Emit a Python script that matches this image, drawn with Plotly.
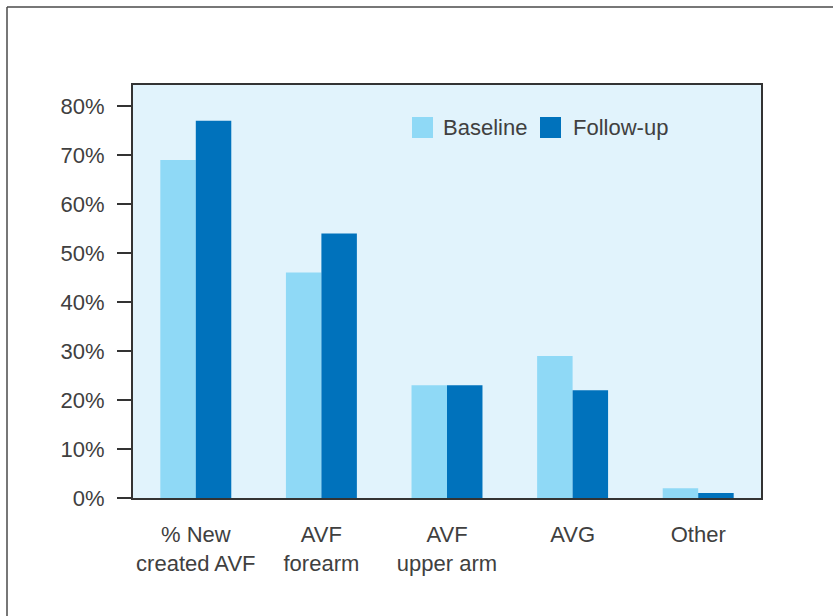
import plotly.graph_objects as go

categories = ["% New<br>created AVF", "AVF<br>forearm", "AVF<br>upper arm", "AVG", "Other"]
baseline = [69, 46, 23, 29, 2]
follow_up = [77, 54, 23, 22, 1]
series_names = ["Baseline", "Follow-up"]
y_ticks = [0, 10, 20, 30, 40, 50, 60, 70, 80]
y_tick_labels = [f"{v}%" for v in y_ticks]

c_base = "#8fd9f6"
c_follow = "#0072bc"
font_family = "Liberation Sans, Arial, sans-serif"
txt_color = "#404040"
fs = 22

fig = go.Figure()
fig.add_trace(go.Bar(x=categories, y=baseline, name=series_names[0], marker=dict(color=c_base, line=dict(width=0))))
fig.add_trace(go.Bar(x=categories, y=follow_up, name=series_names[1], marker=dict(color=c_follow, line=dict(width=0))))

L, R, T, B = 133, 72, 85, 118
W, H = 833, 616
pw, ph = W - L - R, H - T - B

def px(x):
    return (x - L) / pw

def py(y):
    return (H - B - y) / ph

shapes = [
    # outer frame (left and top edges)
    dict(type="line", xref="paper", yref="paper", x0=px(7), x1=px(7), y0=py(7), y1=py(640),
         line=dict(color="#4a4a4a", width=1.5)),
    dict(type="line", xref="paper", yref="paper", x0=px(7), x1=px(860), y0=py(7), y1=py(7),
         line=dict(color="#4a4a4a", width=1.5)),
    # legend swatches
    dict(type="rect", xref="paper", yref="paper", x0=px(412), x1=px(433), y0=py(138), y1=py(117),
         fillcolor=c_base, line=dict(width=0)),
    dict(type="rect", xref="paper", yref="paper", x0=px(540), x1=px(561), y0=py(138), y1=py(117),
         fillcolor=c_follow, line=dict(width=0)),
]
annotations = [
    dict(text=series_names[0], xref="paper", yref="paper", x=px(441), y=py(127.5), xanchor="left",
         yanchor="middle", showarrow=False, font=dict(size=fs, color=txt_color, family=font_family)),
    dict(text=series_names[1], xref="paper", yref="paper", x=px(571), y=py(127.5), xanchor="left",
         yanchor="middle", showarrow=False, font=dict(size=fs, color=txt_color, family=font_family)),
]

fig.update_layout(
    width=W, height=H,
    margin=dict(l=L, r=R, t=T, b=B, pad=0),
    paper_bgcolor="white",
    plot_bgcolor="#e1f3fc",
    barmode="group",
    bargap=0.435,
    bargroupgap=0,
    showlegend=False,
    font=dict(family=font_family, size=fs, color=txt_color),
    shapes=shapes,
    annotations=annotations,
    xaxis=dict(
        showline=True, linecolor="#333333", linewidth=2, mirror=True,
        ticks="", showgrid=False, tickfont=dict(size=fs, color=txt_color),
        ticklabelstandoff=16,
    ),
    yaxis=dict(
        range=[0, (H - B - T) / 4.9],
        tickvals=y_ticks, ticktext=y_tick_labels,
        showline=True, linecolor="#333333", linewidth=2, mirror=True,
        ticks="outside", ticklen=14, tickwidth=2, tickcolor="#333333",
        showgrid=False, zeroline=False, tickfont=dict(size=fs, color=txt_color),
        ticklabelstandoff=8,
    ),
)

fig.write_html("out.html", config={"displayModeBar": False},
               post_script="document.body.style.margin='0';document.body.style.overflow='hidden';")
